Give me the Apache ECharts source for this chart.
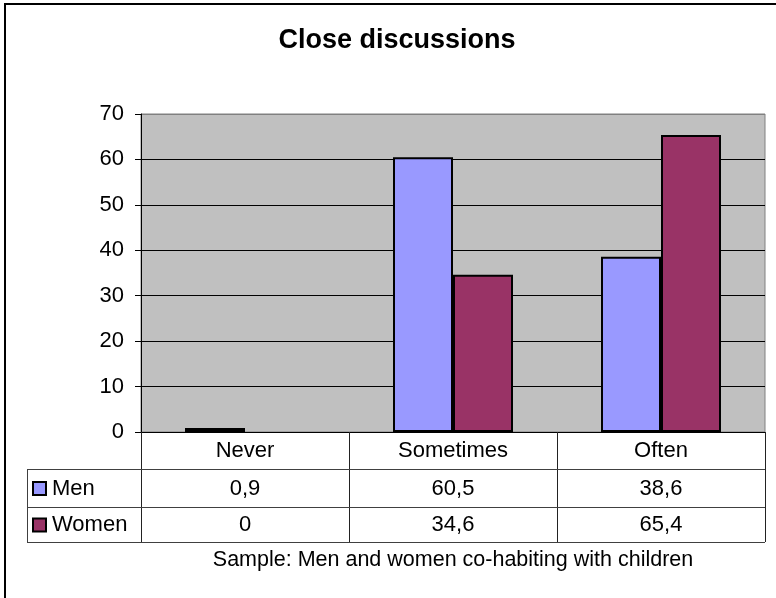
<!DOCTYPE html>
<html>
<head>
<meta charset="utf-8">
<script src="https://cdn.jsdelivr.net/npm/echarts@6/dist/echarts.min.js"></script>
<style>
  html, body { margin: 0; padding: 0; background: #fff; }
  #chart { width: 776px; height: 598px; }
</style>
</head>
<body>
<div id="chart"></div>
<script>
// Chart data
const categories = ['Never', 'Sometimes', 'Often'];
const menValues = [0.9, 60.5, 38.6];
const womenValues = [0, 34.6, 65.4];
const menLabels = ['0,9', '60,5', '38,6'];
const womenLabels = ['0', '34,6', '65,4'];
const seriesNames = ['Men', 'Women'];
const yTicks = [0, 10, 20, 30, 40, 50, 60, 70];

const FONT = '"Liberation Sans", Arial, sans-serif';
const MEN_COLOR = '#9999FF';
const WOMEN_COLOR = '#993366';
const LABEL_SIZE = 22;

// Plot area layout
const GRID_LEFT = 141, GRID_TOP = 114, GRID_W = 624, GRID_H = 318;
const AXIS_Y = GRID_TOP + GRID_H;       // 432
const ROW1_Y = 469, ROW2_Y = 507, ROW3_Y = 542;
const TABLE_LEFT = 27;

const chart = echarts.init(document.getElementById('chart'), null, { renderer: 'canvas' });

const splitColors = yTicks.map((v, i) => i === yTicks.length - 1 ? '#808080' : '#000000');

// zero-height bars get no outline
const barData = values => values.map(v => v === 0 ? { value: v, itemStyle: { borderWidth: 0 } } : v);

chart.setOption({
  animation: false,
  backgroundColor: '#ffffff',
  grid: {
    left: GRID_LEFT, top: GRID_TOP, width: GRID_W, height: GRID_H,
    show: true, backgroundColor: '#C0C0C0', borderColor: '#808080', borderWidth: 1
  },
  xAxis: {
    type: 'category',
    data: categories,
    axisLine: { show: true, lineStyle: { color: '#000', width: 1 } },
    axisTick: { show: true, alignWithLabel: false, inside: false, length: ROW3_Y - AXIS_Y,
                lineStyle: { color: '#222', width: 1 } },
    axisLabel: { show: true, margin: 19, verticalAlign: 'middle', fontSize: LABEL_SIZE,
                 fontFamily: FONT, color: '#000' },
    splitLine: { show: false }
  },
  yAxis: {
    type: 'value',
    min: yTicks[0], max: yTicks[yTicks.length - 1], interval: 10,
    axisLine: { show: true, lineStyle: { color: '#000', width: 1 } },
    axisTick: { show: true, length: 6, lineStyle: { color: '#000' } },
    axisLabel: { margin: 17, fontSize: LABEL_SIZE, fontFamily: FONT, color: '#000' },
    splitLine: { show: true, lineStyle: { color: splitColors, width: 1 } }
  },
  series: [
    {
      name: seriesNames[0], type: 'bar', data: barData(menValues),
      barWidth: 60, barGap: '0%',
      itemStyle: { color: MEN_COLOR, borderColor: '#000', borderWidth: 2 }
    },
    {
      name: seriesNames[1], type: 'bar', data: barData(womenValues),
      barWidth: 60, barGap: '0%',
      itemStyle: { color: WOMEN_COLOR, borderColor: '#000', borderWidth: 2 }
    }
  ]
});

// Data table beneath the plot, placed with the category axis
const graphics = [];

// outer chart frame
graphics.push({ type: 'rect', shape: { x: 5, y: 4, width: 900, height: 900 },
  style: { fill: null, stroke: '#000', lineWidth: 2 }, z: 100 });

// title
graphics.push({ type: 'text', x: 397, y: 41, z: 100,
  style: { text: 'Close discussions', font: 'bold 27px ' + FONT, fill: '#000',
           textAlign: 'center', textVerticalAlign: 'middle' } });

// horizontal table rules
[ROW1_Y, ROW2_Y, ROW3_Y].forEach(y => {
  graphics.push({ type: 'line', z: 100,
    shape: { x1: TABLE_LEFT, y1: y + 0.5, x2: GRID_LEFT + GRID_W, y2: y + 0.5 },
    style: { stroke: '#404040', lineWidth: 1 } });
});
// left border of the legend column
graphics.push({ type: 'line', z: 100,
  shape: { x1: TABLE_LEFT + 0.5, y1: ROW1_Y, x2: TABLE_LEFT + 0.5, y2: ROW3_Y + 1 },
  style: { stroke: '#404040', lineWidth: 1 } });

// legend keys and series names
const rows = [
  { name: seriesNames[0], color: MEN_COLOR, labels: menLabels, top: ROW1_Y, bottom: ROW2_Y },
  { name: seriesNames[1], color: WOMEN_COLOR, labels: womenLabels, top: ROW2_Y, bottom: ROW3_Y }
];
rows.forEach(r => {
  const cy = (r.top + r.bottom) / 2 + 0.5;
  graphics.push({ type: 'rect', z: 100, shape: { x: 33, y: cy - 6.5, width: 13, height: 13 },
    style: { fill: r.color, stroke: '#000', lineWidth: 2 } });
  graphics.push({ type: 'text', x: 52, y: cy, z: 100,
    style: { text: r.name, font: LABEL_SIZE + 'px ' + FONT, fill: '#000',
             textAlign: 'left', textVerticalAlign: 'middle' } });
  categories.forEach((c, i) => {
    const px = chart.convertToPixel({ xAxisIndex: 0 }, c);
    graphics.push({ type: 'text', x: px, y: cy, z: 100,
      style: { text: r.labels[i], font: LABEL_SIZE + 'px ' + FONT, fill: '#000',
               textAlign: 'center', textVerticalAlign: 'middle' } });
  });
});

// sample note
graphics.push({ type: 'text', x: GRID_LEFT + GRID_W / 2, y: 560, z: 100,
  style: { text: 'Sample: Men and women co-habiting with children', font: '21.5px ' + FONT,
           fill: '#000', textAlign: 'center', textVerticalAlign: 'middle' } });

chart.setOption({ graphic: { elements: graphics } });
</script>
</body>
</html>
